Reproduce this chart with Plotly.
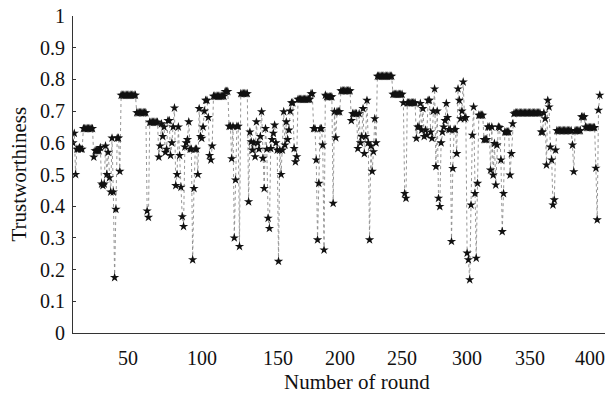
import plotly.graph_objects as go

TRUST = [
    0.60, 0.63, 0.50, 0.58, 0.58, 0.585, 0.58, 0.58,
    0.645, 0.645, 0.645, 0.645, 0.645, 0.645, 0.645, 0.645,
    0.555, 0.575, 0.575, 0.575, 0.575, 0.585,
    0.47, 0.465, 0.47,
    0.59, 0.50, 0.57, 0.49, 0.445, 0.615, 0.445, 0.175, 0.39, 0.615, 0.615, 0.51,
    0.75, 0.75, 0.75, 0.75, 0.75, 0.75, 0.75, 0.75, 0.75, 0.75, 0.75, 0.75,
    0.695, 0.695, 0.695, 0.695, 0.695, 0.695, 0.695, 0.695,
    0.385, 0.365,
    0.665, 0.665, 0.665, 0.665, 0.665, 0.665, 0.665,
    0.555, 0.59, 0.66, 0.62, 0.65, 0.57, 0.58,
    0.67, 0.67, 0.56,
    0.60, 0.65, 0.71, 0.465, 0.50,
    0.65, 0.56, 0.46, 0.367, 0.336, 0.587, 0.60,
    0.61, 0.666, 0.58, 0.58, 0.231, 0.456, 0.58, 0.58, 0.50, 0.708,
    0.62, 0.614, 0.65, 0.70, 0.734, 0.734, 0.68, 0.56, 0.546, 0.59,
    0.747, 0.747, 0.747, 0.747, 0.747, 0.747, 0.747, 0.747, 0.747,
    0.762, 0.762, 0.762, 0.652, 0.652, 0.55, 0.652, 0.30, 0.483, 0.652, 0.652, 0.273,
    0.755, 0.755, 0.755, 0.755, 0.755, 0.755,
    0.414, 0.634, 0.603, 0.577, 0.60, 0.556, 0.666, 0.60, 0.58, 0.62,
    0.698, 0.551, 0.456, 0.645, 0.58, 0.362, 0.33, 0.582, 0.61, 0.63,
    0.656, 0.60, 0.577, 0.226, 0.577, 0.50, 0.577, 0.698, 0.593, 0.666,
    0.61, 0.64, 0.70, 0.726, 0.726, 0.582, 0.54, 0.556, 0.737,
    0.737, 0.737, 0.737, 0.737, 0.737, 0.737, 0.737, 0.737, 0.737,
    0.755, 0.755,
    0.645, 0.645, 0.546, 0.294, 0.472, 0.645, 0.645, 0.593, 0.262,
    0.75, 0.745, 0.745, 0.745, 0.745, 0.745, 0.409,
    0.698, 0.616, 0.698, 0.698, 0.698,
    0.764, 0.764, 0.764, 0.764, 0.764, 0.764, 0.764, 0.764,
    0.67, 0.692, 0.692, 0.692, 0.692, 0.582, 0.692,
    0.60, 0.62, 0.708, 0.566, 0.62, 0.734, 0.60, 0.294, 0.59, 0.51, 0.572, 0.676, 0.60,
    0.81, 0.81, 0.81, 0.81, 0.81, 0.81, 0.81, 0.81, 0.81, 0.81, 0.81, 0.81,
    0.753, 0.753, 0.753, 0.753, 0.753, 0.753, 0.753, 0.753,
    0.726, 0.44, 0.425, 0.726, 0.726, 0.726, 0.726, 0.726, 0.726, 0.726,
    0.614, 0.65, 0.65, 0.724, 0.64, 0.708, 0.62, 0.64, 0.624, 0.734,
    0.734, 0.634, 0.614, 0.70, 0.77, 0.525, 0.70, 0.425, 0.399, 0.60,
    0.634, 0.65, 0.67, 0.724, 0.68, 0.642, 0.642, 0.289, 0.519, 0.642,
    0.642, 0.566, 0.77, 0.734, 0.676, 0.70, 0.792, 0.676, 0.68, 0.252,
    0.231, 0.168, 0.404, 0.624, 0.713, 0.44, 0.236, 0.472, 0.687,
    0.687, 0.687, 0.687,
    0.61, 0.61, 0.61, 0.65, 0.65, 0.514, 0.65, 0.498, 0.598, 0.467,
    0.593, 0.65, 0.648, 0.546, 0.32, 0.44, 0.634, 0.634, 0.634, 0.634,
    0.498, 0.566, 0.66, 0.692,
    0.694, 0.694, 0.694, 0.694, 0.694, 0.694, 0.694, 0.694, 0.694, 0.694,
    0.694, 0.694, 0.694, 0.694, 0.694, 0.694, 0.694, 0.694, 0.694, 0.694,
    0.634, 0.634, 0.694, 0.676, 0.53, 0.734, 0.713, 0.587, 0.546, 0.404, 0.42, 0.577,
    0.638, 0.638, 0.638, 0.638, 0.638, 0.638, 0.638, 0.638, 0.638, 0.638, 0.638, 0.638,
    0.593, 0.509, 0.638, 0.638, 0.638, 0.638, 0.638,
    0.682, 0.682, 0.682,
    0.65, 0.648, 0.648, 0.648, 0.648, 0.648, 0.648, 0.648,
    0.52, 0.357, 0.703, 0.75,
]
ROUNDS = list(range(1, len(TRUST) + 1))

# x tick labels and the round positions where the reference prints them
X_TICK_LABELS = ["50", "100", "150", "200", "250", "300", "350", "400"]
X_TICK_AT = [43.3, 100.2, 158.6, 206.3, 253.9, 303.9, 352.3, 398.5]
Y_TICKS = [0, 0.1, 0.2, 0.3, 0.4, 0.5, 0.6, 0.7, 0.8, 0.9, 1]
Y_TICK_LABELS = ["0", "0.1", "0.2", "0.3", "0.4", "0.5", "0.6", "0.7", "0.8", "0.9", "1"]

FONT = "Liberation Serif, Times New Roman, serif"
INK = "#111111"

fig = go.Figure()
fig.add_trace(go.Scatter(
    x=ROUNDS, y=TRUST, mode="lines+markers",
    line=dict(color="#8a8a8a", width=0.9, dash="dot"),
    marker=dict(symbol="star", size=7, color=INK, line=dict(width=0)),
    showlegend=False, hoverinfo="x+y",
))

fig.update_layout(
    width=606, height=403,
    margin=dict(l=73, r=1, t=16, b=70),
    paper_bgcolor="white", plot_bgcolor="white",
    font=dict(family=FONT, size=20, color=INK),
    xaxis=dict(
        range=[1, 410], showgrid=False, zeroline=False, automargin=False,
        showline=True, linecolor="#333333", linewidth=1,
        tickmode="array", tickvals=X_TICK_AT, ticktext=X_TICK_LABELS,
        ticks="", ticklabelstandoff=7,
        tickfont=dict(family=FONT, size=20, color=INK),
    ),
    yaxis=dict(
        range=[0, 1], showgrid=False, zeroline=False, automargin=False,
        showline=True, linecolor="#333333", linewidth=1,
        tickmode="array", tickvals=Y_TICKS, ticktext=Y_TICK_LABELS,
        ticks="inside", ticklen=3, tickcolor="#333333", ticklabelstandoff=3,
        tickfont=dict(family=FONT, size=20, color=INK),
    ),
    annotations=[
        dict(text="Number of round", xref="paper", yref="paper",
             x=(357 - 73) / 532, y=-(382 - 333) / 317,
             xanchor="center", yanchor="middle", showarrow=False,
             font=dict(family=FONT, size=21, color=INK)),
        dict(text="Trustworthiness", xref="paper", yref="paper",
             x=(18 - 73) / 532, y=0.5, textangle=-90,
             xanchor="center", yanchor="middle", showarrow=False,
             font=dict(family=FONT, size=21, color=INK)),
    ],
)

fig.write_html(
    "out.html",
    config={"displayModeBar": False},
    post_script="document.body.style.margin='0px';document.body.style.overflow='hidden';",
)
